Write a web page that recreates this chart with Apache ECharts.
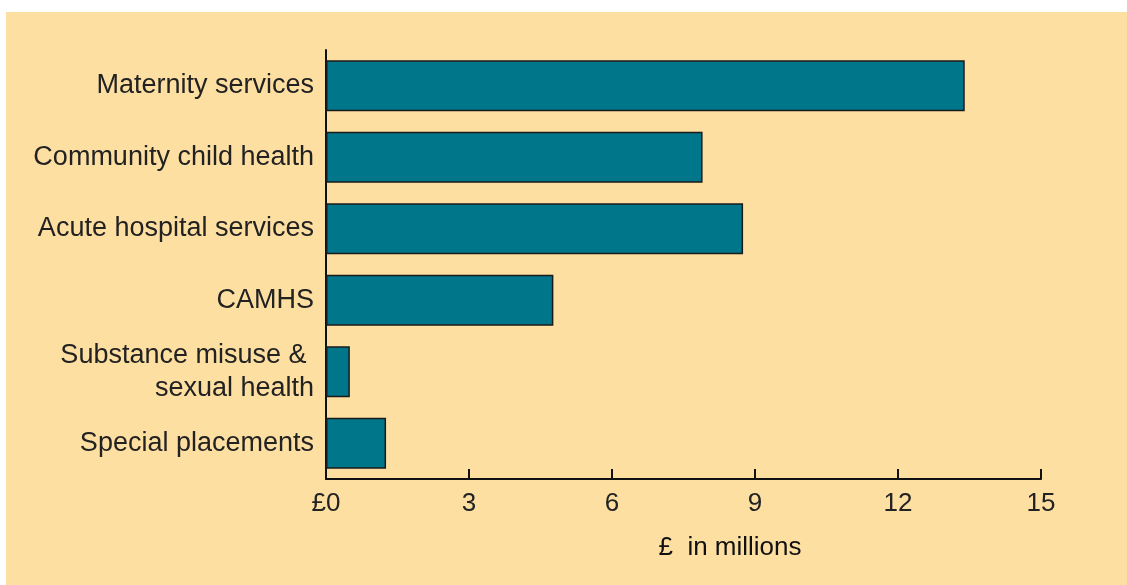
<!DOCTYPE html>
<html>
<head>
<meta charset="utf-8">
<script src="https://cdn.jsdelivr.net/npm/echarts@6/dist/echarts.min.js"></script>
<style>
html,body{margin:0;padding:0;background:#ffffff;width:1127px;height:585px;overflow:hidden;}
#main{position:absolute;left:6px;top:12px;width:1121px;height:573px;}
</style>
</head>
<body>
<div id="main"></div>
<script>
const categories = [
  "Maternity services",
  "Community child health",
  "Acute hospital services",
  "CAMHS",
  "Substance misuse & \nsexual health",
  "Special placements"
];
const spending = [13.4, 7.9, 8.75, 4.77, 0.5, 1.26];
const xTicks = [0, 3, 6, 9, 12, 15];
const axisTitle = "£  in millions";

const chart = echarts.init(document.getElementById('main'), null, {renderer: 'canvas'});
const font = "'Liberation Sans', Arial, Helvetica, sans-serif";
chart.setOption({
  backgroundColor: '#FDDFA2',
  animation: false,
  grid: {left: 320, right: 86, top: 38, bottom: 106, containLabel: false},
  xAxis: {
    type: 'value',
    min: xTicks[0],
    max: xTicks[xTicks.length - 1],
    interval: xTicks[1] - xTicks[0],
    axisLine: {show: true, lineStyle: {color: '#111', width: 2}},
    axisTick: {show: true, inside: true, length: 10, lineStyle: {color: '#111', width: 2}},
    splitLine: {show: false},
    axisLabel: {
      margin: 12,
      color: '#222',
      fontFamily: font,
      fontSize: 26,
      formatter: v => (v === 0 ? '£0' : String(v))
    },
    name: axisTitle,
    nameLocation: 'middle',
    nameGap: 56,
    nameTextStyle: {color: '#111', fontFamily: font, fontSize: 26, padding: [0, 0, 0, 93]}
  },
  yAxis: {
    type: 'category',
    data: categories,
    inverse: true,
    axisLine: {show: true, lineStyle: {color: '#111', width: 2}},
    axisTick: {show: false},
    axisLabel: {
      margin: 12,
      color: '#222',
      fontFamily: font,
      fontSize: 27,
      lineHeight: 33,
      align: 'right'
    }
  },
  series: [{
    type: 'bar',
    data: spending,
    barCategoryGap: '28.5%',
    itemStyle: {color: '#00768A', borderColor: '#1a1a1a', borderWidth: 1.5}
  }]
});
</script>
</body>
</html>
